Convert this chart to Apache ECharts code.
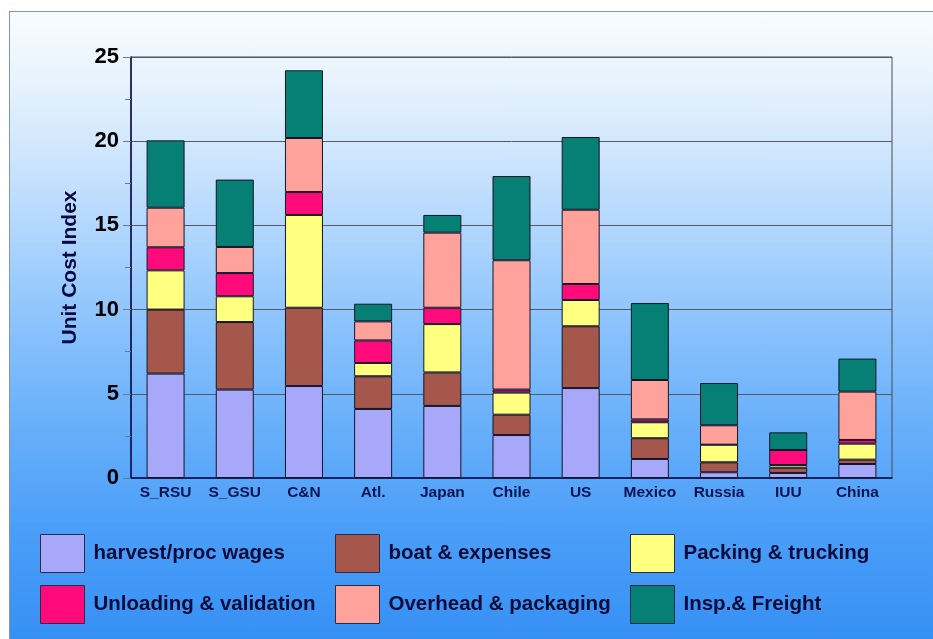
<!DOCTYPE html>
<html>
<head>
<meta charset="utf-8">
<script src="https://cdn.jsdelivr.net/npm/echarts@6/dist/echarts.min.js"></script>
<style>
  html, body { margin: 0; padding: 0; background: #ffffff; width: 933px; height: 639px; overflow: hidden; }
  #frame {
    position: absolute; left: 9px; top: 11px; width: 940px; height: 640px;
    border: 1px solid #7f9c9a;
    background: linear-gradient(to bottom, #f9fcfe 0px, #e4f1fd 80px, #c8e2fd 160px, #a8d2fd 240px, #88c1fc 320px, #66aefa 420px, #4a9ef8 520px, #3690f4 628px);
  }
  #chart { position: absolute; left: 0; top: 0; width: 933px; height: 639px; }
</style>
</head>
<body>
<div id="frame"></div>
<div id="chart"></div>
<script>
// Cost categories along the x axis
const categories = ['S_RSU', 'S_GSU', 'C&N', 'Atl.', 'Japan', 'Chile', 'US', 'Mexico', 'Russia', 'IUU', 'China'];

// Stacked cost components (unit cost index)
const harvestWages   = [6.20, 5.25, 5.46, 4.10, 4.28, 2.55, 5.34, 1.13, 0.34, 0.30, 0.83];
const boatExpenses   = [3.80, 4.01, 4.65, 1.94, 1.99, 1.21, 3.67, 1.23, 0.59, 0.31, 0.26];
const packingTruck   = [2.33, 1.53, 5.51, 0.79, 2.87, 1.31, 1.56, 0.95, 1.05, 0.16, 0.95];
const unloadingValid = [1.37, 1.38, 1.36, 1.34, 0.97, 0.18, 0.95, 0.17, 0.00, 0.89, 0.22];
const overheadPack   = [2.35, 1.55, 3.21, 1.13, 4.46, 7.68, 4.41, 2.34, 1.15, 0.00, 2.87];
const inspFreight    = [4.00, 4.00, 4.02, 1.05, 1.05, 5.00, 4.32, 4.57, 2.51, 1.05, 1.96];

// Y axis ticks
const yTicks = [0, 5, 10, 15, 20, 25];

const seriesDefs = [
  { name: 'harvest/proc wages',     data: harvestWages,   color: '#a8a8fa' },
  { name: 'boat & expenses',        data: boatExpenses,   color: '#a5574b' },
  { name: 'Packing & trucking',     data: packingTruck,   color: '#ffff80' },
  { name: 'Unloading & validation', data: unloadingValid, color: '#ff0a7a' },
  { name: 'Overhead & packaging',   data: overheadPack,   color: '#ffa29c' },
  { name: 'Insp.& Freight',         data: inspFreight,    color: '#067f74' }
];

const legendText = {
  color: '#0b0b3a', fontFamily: 'Liberation Sans, Arial, sans-serif',
  fontWeight: 'bold', fontSize: 20.5, padding: [0, 0, 0, 4]
};
function legendCol(left, names) {
  return {
    orient: 'vertical', left: left, top: 534, padding: 0, data: names,
    itemWidth: 44, itemHeight: 38, itemGap: 12,
    icon: 'rect', textStyle: legendText, selectedMode: false,
    itemStyle: { borderColor: '#2a2a4a', borderWidth: 1 }
  };
}

const chart = echarts.init(document.getElementById('chart'), null, { renderer: 'canvas' });
chart.setOption({
  backgroundColor: 'transparent',
  animation: false,
  grid: {
    left: 131, right: 41, top: 57, bottom: 161,
    show: true, borderColor: '#4a4a55', borderWidth: 1, backgroundColor: 'transparent'
  },
  legend: [
    legendCol(40,  ['harvest/proc wages', 'Unloading & validation']),
    legendCol(335, ['boat & expenses', 'Overhead & packaging']),
    legendCol(630, ['Packing & trucking', 'Insp.& Freight'])
  ],
  xAxis: {
    type: 'category', data: categories,
    axisLine: { lineStyle: { color: '#0a0a50', width: 1.5 } },
    axisTick: { show: false },
    axisLabel: {
      interval: 0,
      color: '#0a1450', fontFamily: 'Liberation Sans, Arial, sans-serif',
      fontWeight: 'bold', fontSize: 15.5, margin: 7
    }
  },
  yAxis: {
    type: 'value', min: yTicks[0], max: yTicks[yTicks.length - 1], interval: 5,
    name: 'Unit Cost Index', nameLocation: 'middle', nameRotate: 90, nameGap: 50,
    nameTextStyle: {
      color: '#0a0a40', fontFamily: 'Liberation Sans, Arial, sans-serif',
      fontWeight: 'bold', fontSize: 21
    },
    axisLine: { show: true, lineStyle: { color: '#0a0a50', width: 1.5 } },
    axisTick: { show: true, length: 8, lineStyle: { color: '#6a7a90' } },
    minorTick: { show: true, splitNumber: 2, length: 6, lineStyle: { color: '#6a7a90' } },
    splitLine: { show: true, lineStyle: { color: '#555a66', width: 1 } },
    axisLabel: {
      color: '#000000', fontFamily: 'Liberation Sans, Arial, sans-serif',
      fontWeight: 'bold', fontSize: 22, margin: 12
    }
  },
  series: seriesDefs.map(s => ({
    type: 'bar', name: s.name, stack: 'cost', data: s.data,
    barWidth: 38,
    itemStyle: { color: s.color, borderColor: '#151525', borderWidth: 1 }
  }))
});
</script>
</body>
</html>
